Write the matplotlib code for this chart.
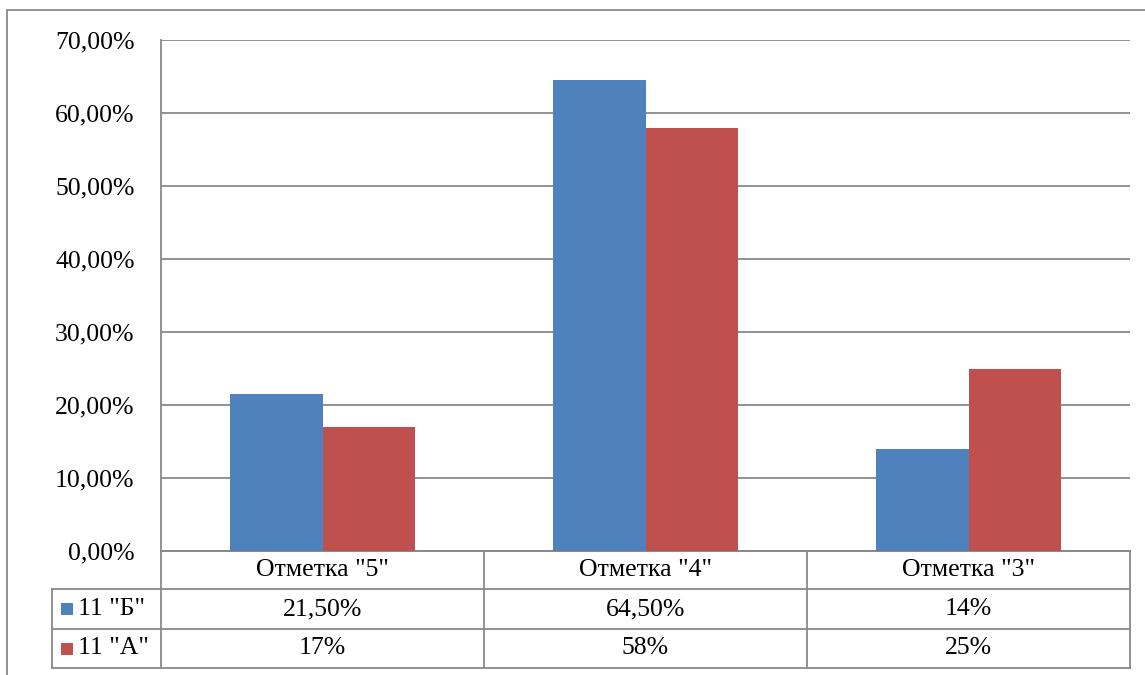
import matplotlib.pyplot as plt
import numpy as np
from matplotlib.patches import Rectangle
from matplotlib.ticker import FuncFormatter
import matplotlib.transforms as mtransforms

# Data
categories = ['Отметка "5"', 'Отметка "4"', 'Отметка "3"']
series_names = ['11 "Б"', '11 "А"']
values_b = [21.5, 64.5, 14.0]
values_a = [17.0, 58.0, 25.0]
labels_b = ['21,50%', '64,50%', '14%']
labels_a = ['17%', '58%', '25%']

colors = ['#4F81BD', '#C0504D']
line_col = '#898989'

plt.rcParams['font.family'] = ['Liberation Serif', 'DejaVu Serif']
plt.rcParams['font.size'] = 18.5

fig = plt.figure(figsize=(11.45, 6.75), dpi=100)
ax = fig.add_axes([161 / 1145, 1 - 551 / 675, 969 / 1145, 511 / 675])

x = np.arange(len(categories))
w = 1 / 3.5
ax.bar(x - w / 2, values_b, width=w, color=colors[0], zorder=3)
ax.bar(x + w / 2, values_a, width=w, color=colors[1], zorder=3)

ax.set_xlim(-0.5, len(categories) - 0.5)
ax.set_ylim(0, 70)
ax.set_yticks(np.arange(0, 71, 10))
ax.yaxis.set_major_formatter(FuncFormatter(lambda v, p: f'{v:.2f}%'.replace('.', ',')))
ax.set_xticks([])
ax.tick_params(axis='y', length=0, pad=19, labelsize=18.5)
ax.grid(axis='y', color=line_col, linewidth=1.3, zorder=0)
for s in ['top', 'right']:
    ax.spines[s].set_visible(False)
for s in ['left', 'bottom']:
    ax.spines[s].set_color(line_col)
    ax.spines[s].set_linewidth(1.3)

# Data table below the plot
trans = mtransforms.blended_transform_factory(ax.transData, ax.transAxes)
px = 1 / 511  # axes fraction per pixel vertically
row_edges = [0, -38 * px, -78 * px, -117 * px]
left_lab = -0.5 - 109 / 969 * 3  # in data units (3 categories over 969 px)
col_edges = list(np.arange(len(categories) + 1) - 0.5)

lk = dict(color=line_col, linewidth=1.3, transform=trans, clip_on=False)
# horizontal lines
ax.plot([col_edges[0], col_edges[-1]], [row_edges[0]] * 2, **lk)
for y in row_edges[1:]:
    ax.plot([left_lab, col_edges[-1]], [y, y], **lk)
# vertical lines
for xe in col_edges:
    ax.plot([xe, xe], [row_edges[0], row_edges[-1]], **lk)
ax.plot([left_lab, left_lab], [row_edges[1], row_edges[-1]], **lk)

for i, cat in enumerate(categories):
    ax.text(i, (row_edges[0] + row_edges[1]) / 2, cat, transform=trans,
            ha='center', va='center')
for r, (lbls, name, col) in enumerate(zip([labels_b, labels_a], series_names, colors)):
    yc = (row_edges[r + 1] + row_edges[r + 2]) / 2
    for i, t in enumerate(lbls):
        ax.text(i, yc, t, transform=trans, ha='center', va='center')
    ax.add_patch(Rectangle((left_lab + 9 / 323, yc - 6 * px), 12 / 323, 12 * px,
                           facecolor=col, transform=trans, clip_on=False))
    ax.text(left_lab + 26 / 323, yc, name, transform=trans, ha='left', va='center')

# Outer chart border
fig.add_artist(Rectangle((7 / 1145, -0.5), 2, 0.5 + (675 - 10) / 675,
                         transform=fig.transFigure, fill=False,
                         edgecolor=line_col, linewidth=1.3))

fig.savefig('out.png', dpi=100)
